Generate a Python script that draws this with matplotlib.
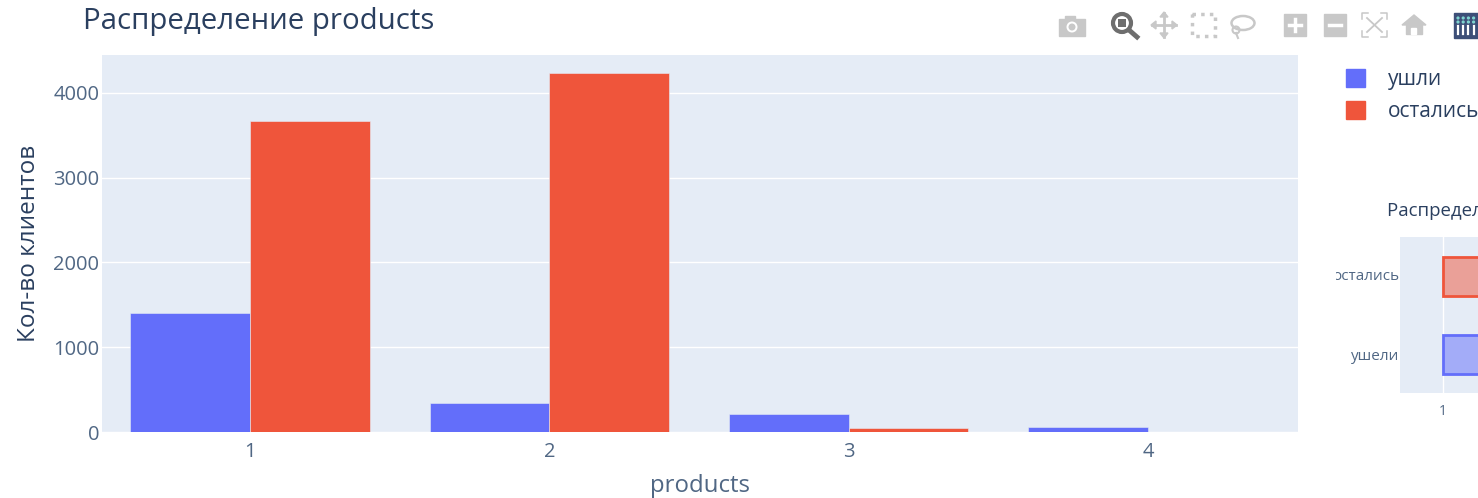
import matplotlib
matplotlib.use('Agg')
import matplotlib.pyplot as plt
from matplotlib.patches import Rectangle, Circle, Polygon, Ellipse
from matplotlib.lines import Line2D
from matplotlib.transforms import Bbox
import numpy as np

plt.rcParams['font.family'] = ['Open Sans', 'DejaVu Sans']

W, H = 1478, 498

# Data
products = [1, 2, 3, 4]
left_clients = [1404, 342, 218, 58]
stayed_clients = [3672, 4238, 46, 0]
series_names = ['ушли', 'остались']
box_groups = ['ушели', 'остались']
box_q1 = [1, 1]
box_q3 = [2, 2]

BLUE = '#636efa'
RED = '#ef553b'
BG = '#e5ecf6'
TEXT = '#2a3f5f'
TICK = '#506784'
ICON = '#c8c8c8'


def axes_px(x0, y0, x1, y1):
    # pixel box (top-left origin) -> figure fraction
    return [x0 / W, 1 - y1 / H, (x1 - x0) / W, (y1 - y0) / H]


fig = plt.figure(figsize=(W / 100, H / 100), dpi=100)

# Main bar chart
ax = fig.add_axes(axes_px(102, 55, 1298, 432))
ax.set_facecolor(BG)
x = np.array(products)
width = 0.4
ax.bar(x - width / 2, left_clients, width, color=BLUE, edgecolor=BG, linewidth=0.4,
       label=series_names[0], zorder=3)
ax.bar(x + width / 2, stayed_clients, width, color=RED, edgecolor=BG, linewidth=0.4,
       label=series_names[1], zorder=3)
ax.set_xlim(0.5055, 4.501)
ax.set_ylim(0, 4448)
ax.set_xticks(products)
ax.set_yticks([0, 1000, 2000, 3000, 4000])
ax.grid(axis='y', color='white', linewidth=1, zorder=1)
ax.set_axisbelow(True)
for s in ax.spines.values():
    s.set_visible(False)
ax.tick_params(length=0, labelsize=14.5, labelcolor=TICK)
ax.tick_params(axis='x', pad=7)
ax.tick_params(axis='y', pad=2)
ax.set_xlabel('products', fontsize=17.3, color=TICK, labelpad=9)
ax.set_ylabel('Кол-во клиентов', fontsize=17.5, color=TEXT, labelpad=9)
fig.text(83 / W, 1 - 21 / H, 'Распределение products', fontsize=21.2, color=TEXT, va='center', ha='left')

# Legend
handles = [Rectangle((0, 0), 1, 1, color=BLUE), Rectangle((0, 0), 1, 1, color=RED)]
fig.legend(handles, series_names, loc='upper left', bbox_to_anchor=(1346 / W, 1 - 69 / H), frameon=False,
           fontsize=15, labelcolor=TEXT, handlelength=0.93, handleheight=0.93, handletextpad=1.1,
           labelspacing=0.55, borderpad=0, borderaxespad=0)

# Inset box chart, runs past the right edge of the picture
ax2 = fig.add_axes(axes_px(1400, 237, 1800, 393))
ax2.set_facecolor(BG)
ypos = [0, 1]
ax2.barh(ypos[1], box_q3[1] - box_q1[1], left=box_q1[1], height=0.5, color=RED + '80', edgecolor=RED, linewidth=2, zorder=3)
ax2.barh(ypos[0], box_q3[0] - box_q1[0], left=box_q1[0], height=0.5, color=BLUE + '80', edgecolor=BLUE, linewidth=2, zorder=3)
ax2.set_xlim(1 - 43 / 300, 1 - 43 / 300 + 400 / 300)
ax2.set_ylim(-0.5, 1.5)
ax2.set_xticks([1])
ax2.set_yticks(ypos)
ax2.set_yticklabels([])
ax2.grid(axis='x', color='white', linewidth=1, zorder=1)
ax2.set_axisbelow(True)
for s in ax2.spines.values():
    s.set_visible(False)
ax2.tick_params(length=0, labelsize=10, labelcolor=TICK, pad=8)
fig.text(1387 / W, 1 - 211 / H, 'Распределение products', fontsize=13.4, color=TEXT, va='center', ha='left')

# y labels of the inset are cut off on the left
for y, name in zip([356, 276], box_groups):
    t = fig.text(1399 / W, 1 - y / H, name, fontsize=11, color=TICK, va='center', ha='right')
    t.set_clip_box(Bbox([[1336, 0], [1400, H]]))
    t.set_clip_on(True)

# Toolbar icons drawn in pixel coordinates
tb = fig.add_axes([0, 0, 1, 1], facecolor='none')
tb.set_xlim(0, W)
tb.set_ylim(H, 0)
tb.axis('off')
# camera
tb.add_patch(Rectangle((1059, 19), 26, 17, color=ICON))
tb.add_patch(Rectangle((1065, 16), 10, 4, color=ICON))
tb.add_patch(Circle((1072, 27), 5.5, fc='white', ec='none'))
tb.add_patch(Circle((1072, 27), 3.5, fc=ICON, ec='none'))
# zoom, active
tb.add_patch(Circle((1122, 23), 9, fc='none', ec='#6e6e6e', lw=3))
tb.add_patch(Rectangle((1118, 19), 8, 8, fc='#6e6e6e', ec='none'))
tb.add_line(Line2D([1129, 1137], [30, 37], color='#6e6e6e', lw=3.5))
# pan
tb.add_line(Line2D([1152, 1176], [25, 25], color=ICON, lw=2))
tb.add_line(Line2D([1164, 1164], [13, 37], color=ICON, lw=2))
for pts in [[(1164, 12), (1160, 17), (1168, 17)], [(1164, 38), (1160, 33), (1168, 33)],
            [(1151, 25), (1156, 21), (1156, 29)], [(1177, 25), (1172, 21), (1172, 29)]]:
    tb.add_patch(Polygon(pts, color=ICON))
# box select
tb.add_patch(Rectangle((1192, 14), 23, 22, fc='none', ec=ICON, lw=2.5, ls=(0, (1, 1.5))))
# lasso
tb.add_patch(Ellipse((1243, 23), 23, 14, fc='none', ec=ICON, lw=1.8))
tb.add_patch(Circle((1236, 30), 3.5, fc='none', ec=ICON, lw=1.5))
tb.add_line(Line2D([1236, 1238], [33, 38], color=ICON, lw=1.5))
# zoom in / out
for x0, sign in [(1284, True), (1324, False)]:
    tb.add_patch(Rectangle((x0, 14), 22, 22, color=ICON))
    tb.add_line(Line2D([x0 + 5, x0 + 17], [25, 25], color='white', lw=2.5))
    if sign:
        tb.add_line(Line2D([x0 + 11, x0 + 11], [19, 31], color='white', lw=2.5))
# autoscale
for cx, cy, dx, dy in [(1362, 13, 1, 1), (1387, 13, -1, 1), (1362, 37, 1, -1), (1387, 37, -1, -1)]:
    tb.add_line(Line2D([cx + 6 * dx, cx, cx], [cy, cy, cy + 6 * dy], color=ICON, lw=1.1))
tb.add_line(Line2D([1367, 1382], [18, 32], color=ICON, lw=1.3))
tb.add_line(Line2D([1382, 1367], [18, 32], color=ICON, lw=1.3))
# home
tb.add_patch(Polygon([(1402, 25), (1414, 15), (1426, 25)], color=ICON))
tb.add_patch(Rectangle((1406, 25), 16, 9, color=ICON))
tb.add_patch(Rectangle((1411, 28), 5, 6, color='white'))
# plotly logo
tb.add_patch(Rectangle((1454, 13), 24, 25, color='#3d4f78'))
for i in range(4):
    px = 1458 + i * 5.2
    tb.add_line(Line2D([px, px], [26, 34], color='white', lw=1.6))
    tb.add_patch(Circle((px, 18), 0.9, color='#7fd4d0'))
    tb.add_patch(Circle((px, 22), 0.9, color='#7fd4d0'))

fig.savefig('out.png', dpi=100)
